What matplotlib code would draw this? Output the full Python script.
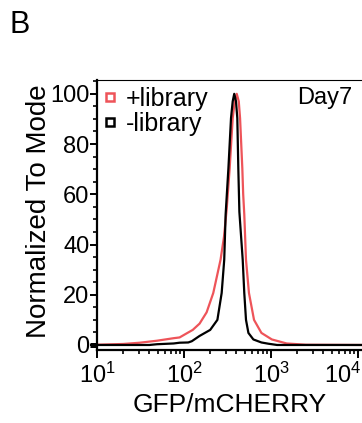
import numpy as np
import matplotlib
matplotlib.use("Agg")
import matplotlib.pyplot as plt
from matplotlib.lines import Line2D
from matplotlib.ticker import MultipleLocator, LogLocator, NullFormatter
import matplotlib.transforms as mtransforms

plt.rcParams['font.family'] = ['Liberation Sans', 'DejaVu Sans']
plt.rcParams['mathtext.fontset'] = 'custom'
plt.rcParams['mathtext.rm'] = 'Liberation Sans'
plt.rcParams['mathtext.it'] = 'Liberation Sans:italic'

# +library (red) : GFP/mCHERRY value, normalized to mode
plus_x = [10, 20, 31, 49, 76, 89, 107, 126, 151, 182, 217, 263, 288, 309, 335, 363,
          383, 404, 426, 441, 468, 479, 493, 516, 558, 638, 776, 1023, 1514, 2512, 11220]
plus_y = [0.1, 0.4, 0.9, 1.7, 2.7, 3.0, 4.6, 6.0, 8.5, 13, 20.7, 33.9, 43, 53.8, 70.4, 90.3,
          97, 100, 97, 90.3, 70.4, 60, 52, 33.9, 20.7, 10, 4.8, 2.2, 0.6, 0.1, 0]

# -library (black)
minus_x = [10, 40, 49, 76, 89, 112, 123, 151, 200, 242, 271, 290, 301, 324, 347, 363,
           378, 396, 410, 421, 433, 473, 493, 516, 550, 627, 776, 933, 1175, 11220]
minus_y = [0, 0, 0.3, 0.6, 0.9, 1.0, 1.5, 3.6, 6.0, 10, 20.7, 33.9, 52, 70.4, 90.3, 97,
           100, 97, 90.3, 70.4, 53, 33.9, 20.7, 10, 4.8, 2.2, 1.0, 0.5, 0, 0]

series_labels = ['+library', '-library']
series_colors = ['#EE5459', '#000000']

fig = plt.figure(figsize=(3.62, 4.23), dpi=100)
W, H = 362, 423
ax = fig.add_axes([97 / W, 1 - 350 / H, (362 - 97) / W, (350 - 80) / H])

ax.plot(plus_x, plus_y, color=series_colors[0], lw=1.6, zorder=2,
        solid_joinstyle='round')
ax.plot(minus_x, minus_y, color=series_colors[1], lw=1.6, zorder=3,
        solid_joinstyle='round')

ax.set_xscale('log')
ax.set_xlim(10, 10 ** 4.046)
ax.set_ylim(-2, 105.5)

ax.yaxis.set_major_locator(MultipleLocator(20))
ax.yaxis.set_minor_locator(MultipleLocator(5))
ax.xaxis.set_major_locator(LogLocator(base=10, numticks=10))
ax.xaxis.set_minor_locator(LogLocator(base=10, subs=np.arange(2, 10), numticks=20))
ax.xaxis.set_minor_formatter(NullFormatter())

ax.tick_params(axis='both', which='major', direction='out', length=5, width=1.4,
               labelsize=17, color='black', pad=0.5)
ax.tick_params(axis='both', which='minor', direction='out', length=3, width=1.2)
ax.tick_params(axis='x', which='major', length=6, pad=3)

for s in ['left', 'bottom']:
    ax.spines[s].set_linewidth(1.6)
ax.spines['top'].set_linewidth(0.8)
ax.spines['right'].set_visible(False)

ax.set_ylabel('Normalized To Mode', fontsize=20)
ax.yaxis.set_label_coords(-0.17, 0.515)
ax.set_xlabel('GFP/mCHERRY', fontsize=19, labelpad=4)

# thick mark at the zero tick of the y axis (as in the reference)
zero_trans = mtransforms.blended_transform_factory(ax.transAxes, ax.transData)
ax.plot([-0.027, 0], [0, 0], transform=zero_trans, color='black', lw=3.6,
        solid_capstyle='butt', clip_on=False, zorder=5)

# shift the last x tick label left (as in the reference)
fig.canvas.draw()
offset = mtransforms.ScaledTranslation(-15 / 100, 0, fig.dpi_scale_trans)
for t in ax.xaxis.get_major_ticks():
    if abs(t.get_loc() - 1e4) < 1:
        t.label1.set_transform(t.label1.get_transform() + offset)

handles = [Line2D([], [], linestyle='none', marker='s', markersize=6,
                  markerfacecolor='none', markeredgecolor=c, markeredgewidth=1.8)
           for c in series_colors]
leg = ax.legend(handles, series_labels, loc='upper left', frameon=False,
                fontsize=18, handlelength=0.6, handletextpad=0.35,
                borderaxespad=0.0, borderpad=0.0, labelspacing=0.05,
                bbox_to_anchor=(0.02, 0.975))

fig.text(352 / W, 1 - 98 / H, 'Day7', fontsize=17, ha='right', va='center')
fig.text(10 / W, 1 - 33 / H, 'B', fontsize=22, ha='left', va='baseline')

fig.savefig('out.png', dpi=100)
